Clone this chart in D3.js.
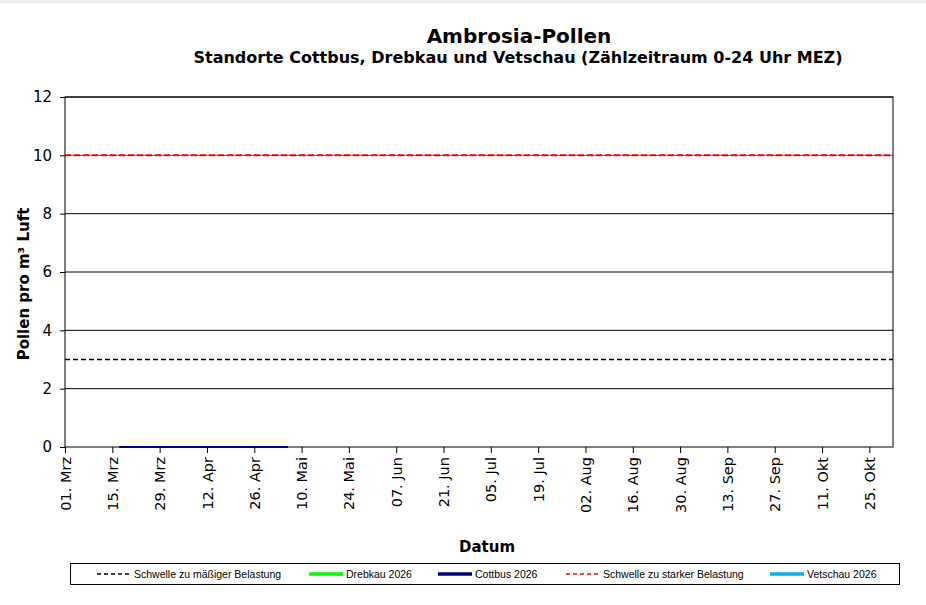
<!DOCTYPE html>
<html>
<head>
<meta charset="utf-8">
<script src="https://cdn.jsdelivr.net/npm/d3@7"></script>
<style>
  body { margin: 0; background: #fff; }
  svg { display: block; }
</style>
</head>
<body>
<svg id="chart" width="926" height="605"></svg>
<script>
// tick dates and labels (every 14 days from 01. Mrz)
const tickDates = ['2026-03-01', '2026-03-15', '2026-03-29', '2026-04-12', '2026-04-26', '2026-05-10',
    '2026-05-24', '2026-06-07', '2026-06-21', '2026-07-05', '2026-07-19', '2026-08-02',
    '2026-08-16', '2026-08-30', '2026-09-13', '2026-09-27', '2026-10-11', '2026-10-25'];
const tickLabels = ['01. Mrz', '15. Mrz', '29. Mrz', '12. Apr', '26. Apr', '10. Mai',
    '24. Mai', '07. Jun', '21. Jun', '05. Jul', '19. Jul', '02. Aug',
    '16. Aug', '30. Aug', '13. Sep', '27. Sep', '11. Okt', '25. Okt'];
const yTicks = [0, 2, 4, 6, 8, 10, 12];

// measured series
const cottbusDates = ['2026-03-17', '2026-03-24', '2026-03-31', '2026-04-07', '2026-04-14',
    '2026-04-21', '2026-04-28', '2026-05-06'];
const cottbusValues = [0, 0, 0, 0, 0, 0, 0, 0];
const drebkauDates = [];
const drebkauValues = [];
const vetschauDates = [];
const vetschauValues = [];

// thresholds
const thresholdModerate = 3;
const thresholdStrong = 10;

const parse = d3.timeParse('%Y-%m-%d');
const svg = d3.select('#chart');

const margin = { top: 97, right: 33, bottom: 158, left: 65 };
const width = 926 - margin.left - margin.right,
    height = 605 - margin.top - margin.bottom;

const x = d3.scaleTime()
    .domain([parse('2026-03-01'), parse('2026-11-01')])
    .range([0, width]);
const y = d3.scaleLinear().domain([0, 12]).range([height, 0]);

svg.append('rect').attr('width', 926).attr('height', 3).attr('fill', '#eeeeee');

svg.append('text')
    .attr('x', 519).attr('y', 43)
    .attr('text-anchor', 'middle')
    .style('font', 'bold 20px "DejaVu Sans", Verdana, sans-serif')
    .text('Ambrosia-Pollen');

svg.append('text')
    .attr('x', 518).attr('y', 63)
    .attr('text-anchor', 'middle')
    .style('font', 'bold 16px "DejaVu Sans", Verdana, sans-serif')
    .text('Standorte Cottbus, Drebkau und Vetschau (Zählzeitraum 0-24 Uhr MEZ)');

const g = svg.append('g').attr('transform', 'translate(' + margin.left + ',' + margin.top + ')');

// grid lines
g.selectAll('.grid')
    .data(yTicks.filter(d => d > 0))
    .enter().append('line')
    .attr('x1', 0).attr('x2', width)
    .attr('y1', d => y(d)).attr('y2', d => y(d))
    .attr('stroke', d => d === thresholdStrong ? '#555' : '#000').attr('stroke-width', 1);

// threshold lines
g.append('line')
    .attr('x1', 0).attr('x2', width)
    .attr('y1', y(thresholdModerate)).attr('y2', y(thresholdModerate))
    .attr('stroke', '#000').attr('stroke-width', 1.4).attr('stroke-dasharray', '5,3');
g.append('line')
    .attr('x1', 0).attr('x2', width)
    .attr('y1', y(thresholdStrong)).attr('y2', y(thresholdStrong))
    .attr('stroke', '#ff0000').attr('stroke-width', 2).attr('stroke-dasharray', '6,3');

// frame
g.append('rect')
    .attr('width', width).attr('height', height)
    .attr('fill', 'none').attr('stroke', '#000').attr('stroke-width', 1);

const line = d3.line().x(d => x(d[0])).y(d => y(d[1]));
const series = [
    { dates: drebkauDates, values: drebkauValues, color: '#00ff00' },
    { dates: vetschauDates, values: vetschauValues, color: '#00b0f0' },
    { dates: cottbusDates, values: cottbusValues, color: '#000080' }
];
series.forEach(function (s) {
    const pts = s.dates.map((d, i) => [parse(d), s.values[i]]);
    if (!pts.length) return;
    g.append('path')
        .datum(pts)
        .attr('d', line)
        .attr('fill', 'none')
        .attr('stroke', s.color)
        .attr('stroke-width', 2);
});

// axes
const yAxis = g.append('g')
    .call(d3.axisLeft(y).tickValues(yTicks).tickSize(5).tickPadding(8).tickFormat(d3.format('d')));
yAxis.select('.domain').remove();
yAxis.selectAll('line').attr('stroke', '#000');
yAxis.selectAll('text')
    .style('font', '15px "DejaVu Sans", Verdana, sans-serif')
    .attr('fill', '#000');

const xAxis = g.append('g')
    .attr('transform', 'translate(0,' + height + ')')
    .call(d3.axisBottom(x)
        .tickValues(tickDates.map(parse))
        .tickSize(6)
        .tickFormat((d, i) => tickLabels[i]));
xAxis.select('.domain').remove();
xAxis.selectAll('line').attr('stroke', '#000');
xAxis.selectAll('text')
    .style('font', '14.5px "DejaVu Sans", Verdana, sans-serif')
    .attr('fill', '#000')
    .attr('text-anchor', 'end')
    .attr('transform', 'rotate(-90)')
    .attr('x', -10)
    .attr('y', 0)
    .attr('dy', '0.35em');

// axis titles
svg.append('text')
    .attr('transform', 'translate(29,284) rotate(-90)')
    .attr('text-anchor', 'middle')
    .style('font', 'bold 15px "DejaVu Sans", Verdana, sans-serif')
    .text('Pollen pro m³ Luft');

svg.append('text')
    .attr('x', 487).attr('y', 552)
    .attr('text-anchor', 'middle')
    .style('font', 'bold 15px "DejaVu Sans", Verdana, sans-serif')
    .text('Datum');

// legend
const legendItems = [
    { label: 'Schwelle zu mäßiger Belastung', color: '#000', dash: '4,3', x: 97 },
    { label: 'Drebkau 2026', color: '#00ff00', dash: null, x: 309 },
    { label: 'Cottbus 2026', color: '#000080', dash: null, x: 438 },
    { label: 'Schwelle zu starker Belastung', color: '#ff0000', dash: '4,3', x: 566 },
    { label: 'Vetschau 2026', color: '#00b0f0', dash: null, x: 770 }
];
svg.append('rect')
    .attr('x', 70.5).attr('y', 563.5).attr('width', 829).attr('height', 21)
    .attr('fill', '#fff').attr('stroke', '#000').attr('stroke-width', 1);
const li = svg.selectAll('.legend').data(legendItems).enter().append('g');
li.append('line')
    .attr('x1', d => d.x).attr('x2', d => d.x + 34)
    .attr('y1', 574).attr('y2', 574)
    .attr('stroke', d => d.color)
    .attr('stroke-width', d => d.dash ? 1.5 : 3.5)
    .attr('stroke-dasharray', d => d.dash);
li.append('text')
    .attr('x', d => d.x + 37).attr('y', 577.5)
    .style('font', '10.5px "Liberation Sans", Arial, sans-serif')
    .attr('fill', '#000')
    .text(d => d.label);
</script>
</body>
</html>
